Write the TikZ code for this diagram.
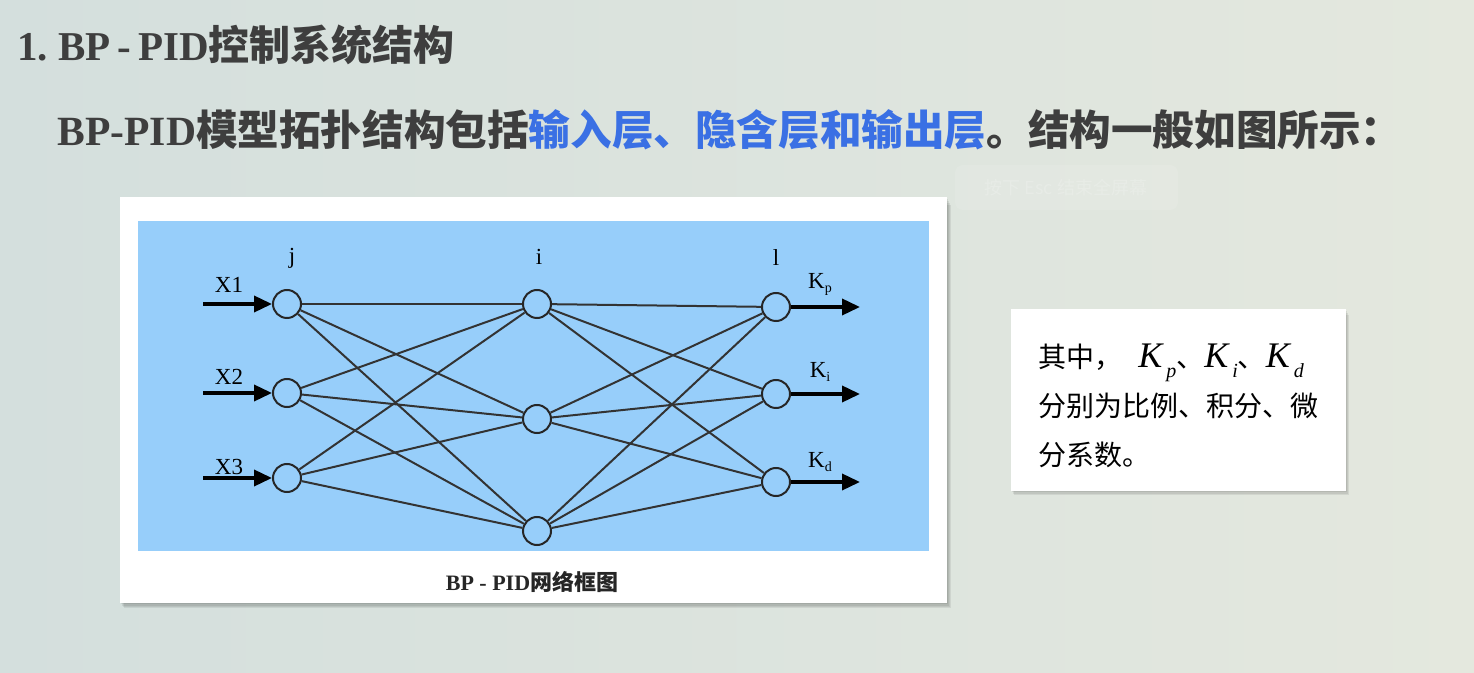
\documentclass[tikz,border=0pt]{standalone}
\usepackage{fontspec}
\setmainfont{Liberation Serif}
\newfontfamily\cjk{Noto Sans CJK SC}
\usetikzlibrary{arrows.meta}
\definecolor{bgl}{RGB}{212,223,221}
\definecolor{bgr}{RGB}{228,232,222}
\definecolor{netblue}{RGB}{151,206,250}
\definecolor{titlegray}{RGB}{62,62,62}
\definecolor{hiblue}{RGB}{58,112,228}
\tikzset{
  neuron/.style={circle,draw=black!85,line width=1pt,minimum size=14pt,inner sep=0pt},
  conn/.style={draw=black!80,line width=1pt},
  ioarrow/.style={draw=black,line width=1.8pt,-{Triangle[length=9pt,width=8pt]}},
  netlabel/.style={font=\fontsize{11.5}{12}\selectfont,inner sep=0pt},
  shadowbox/.style={fill=black,opacity=0.07}
}
\begin{document}
\begin{tikzpicture}[x=0.5pt,y=-0.5pt]
\useasboundingbox (0,0) rectangle (1474,673);
\shade[left color=bgl,right color=bgr] (0,0) rectangle (1474,673);

% faint overlay hint
\fill[white,opacity=0.10,rounded corners=4pt] (955,165) rectangle (1178,210);
\node[text=white,opacity=0.18,font=\cjk\fontsize{9}{10}\selectfont] (hint) at (1066,188) {按下\ Esc\ 结束全屏幕};

% title
\node[anchor=west,inner sep=0pt,text=titlegray,font=\fontsize{20.5}{24}\selectfont\bfseries] (title) at (17,45)
  {1.\ BP\,-\,PID{\cjk 控制系统结构}};
\node[anchor=west,inner sep=0pt,text=titlegray,font=\fontsize{20.8}{24}\selectfont] (sub) at (57,130)
  {\textbf{BP-PID}{\cjk\bfseries 模型拓扑结构包括\textcolor{hiblue}{输入层、隐含层和输出层}。结构一般如图所示：}};

% figure panel
\foreach \d in {2,4,6,8} {\fill[shadowbox] (120+\d/2,197+\d) rectangle (947+\d/2,603+\d/1.5);}
\fill[white] (120,197) rectangle (947,603);
\fill[netblue] (138,221) rectangle (929,551);

% neurons
\node[neuron] (j1) at (287,304) {};
\node[neuron] (j2) at (287,393) {};
\node[neuron] (j3) at (287,478) {};
\node[neuron] (i1) at (537,304) {};
\node[neuron] (i2) at (537,419) {};
\node[neuron] (i3) at (537,531) {};
\node[neuron] (l1) at (776,307) {};
\node[neuron] (l2) at (776,394) {};
\node[neuron] (l3) at (776,482) {};

\foreach \a in {1,2,3} {\foreach \b in {1,2,3} {
  \draw[conn] (j\a) -- (i\b);
  \draw[conn] (i\a) -- (l\b);
}}

% inputs
\coordinate (in1) at (203,304);
\coordinate (in2) at (203,393);
\coordinate (in3) at (203,478);
\draw[ioarrow] (in1) -- (j1);
\draw[ioarrow] (in2) -- (j2);
\draw[ioarrow] (in3) -- (j3);
\coordinate (out1) at (860,307);
\coordinate (out2) at (860,394);
\coordinate (out3) at (860,482);
\draw[ioarrow] (l1) -- (out1);
\draw[ioarrow] (l2) -- (out2);
\draw[ioarrow] (l3) -- (out3);

\node[netlabel] (x1) at (229,285) {X1};
\node[netlabel] (x2) at (229,377) {X2};
\node[netlabel] (x3) at (229,467) {X3};
\node[netlabel] (lj) at (292,258) {j};
\node[netlabel] (li) at (539,257) {i};
\node[netlabel] (ll) at (776,258) {l};
\node[netlabel] (kp) at (820,284) {K\raisebox{-2pt}{\fontsize{7}{7}\selectfont p}};
\node[netlabel] (ki) at (820,372) {K\raisebox{-2pt}{\fontsize{7}{7}\selectfont i}};
\node[netlabel] (kd) at (820,462) {K\raisebox{-2pt}{\fontsize{7}{7}\selectfont d}};

\node[inner sep=0pt,font=\fontsize{11}{12}\selectfont\bfseries,text=black!85] (cap) at (532,582)
  {BP - PID{\cjk 网络框图}};

% note box
\foreach \d in {2,4,6} {\fill[shadowbox] (1011+\d/2,309+\d) rectangle (1346+\d/2,491+\d/1.5);}
\fill[white] (1011,309) rectangle (1346,491);
\node[anchor=west,inner sep=0pt,font=\cjk\fontsize{14}{24.5}\selectfont,align=left,text=black] (note) at (1038,406)
  {其中，\hspace{8pt}{\fontspec{Liberation Serif}\fontsize{18}{18}\selectfont\itshape K\hspace{2pt}\raisebox{-5pt}{\fontsize{10}{10}\selectfont p}}、{\fontspec{Liberation Serif}\fontsize{18}{18}\selectfont\itshape K\hspace{2pt}\raisebox{-5pt}{\fontsize{10}{10}\selectfont i}}、{\fontspec{Liberation Serif}\fontsize{18}{18}\selectfont\itshape K\hspace{2pt}\raisebox{-5pt}{\fontsize{10}{10}\selectfont d}}\\
   分别为比例、积分、微\\
   分系数。};
\end{tikzpicture}
\end{document}
